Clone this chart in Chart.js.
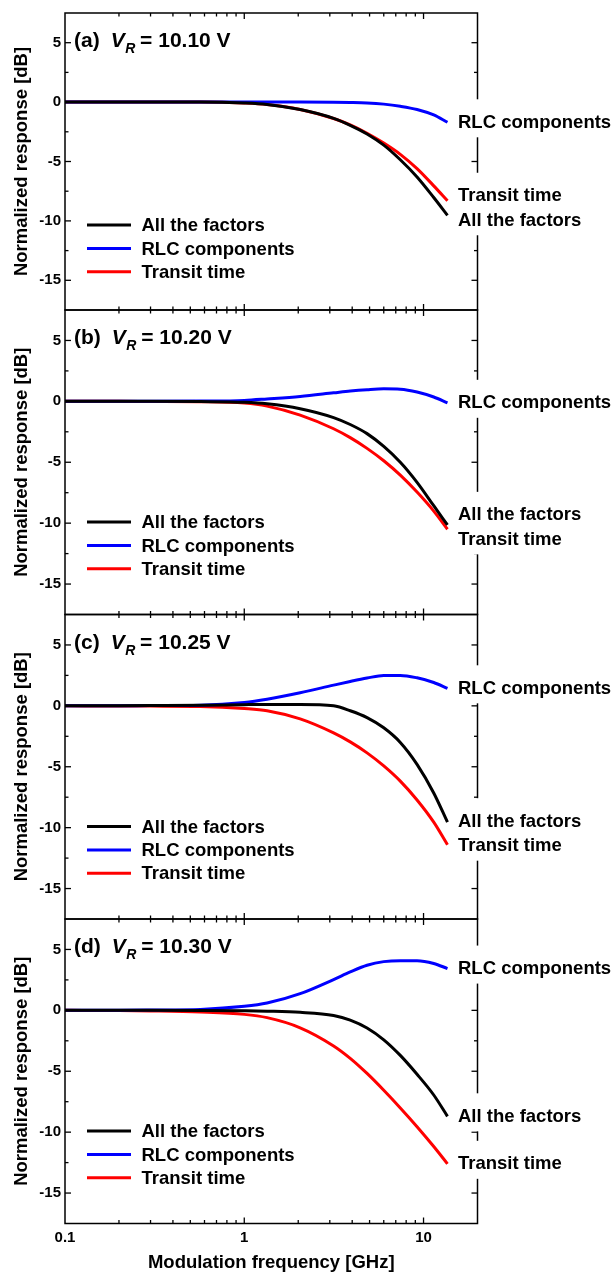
<!DOCTYPE html>
<html>
<head>
<meta charset="utf-8">
<script src="https://cdn.jsdelivr.net/npm/chart.js@4.4.1/dist/chart.umd.min.js"></script>
<style>
  html, body { margin: 0; padding: 0; background: #ffffff; }
  #stack { position: relative; width: 611px; height: 1280px; overflow: hidden; background: #ffffff; }
  #stack canvas { position: absolute; left: 0; top: 0; }
</style>
</head>
<body>
<div id="stack">
  <canvas id="panelA" width="611" height="1280"></canvas>
  <canvas id="panelB" width="611" height="1280"></canvas>
  <canvas id="panelC" width="611" height="1280"></canvas>
  <canvas id="panelD" width="611" height="1280"></canvas>
</div>
<script>
// Modulation frequency samples [GHz]
const freqGHz = [0.1, 0.2, 0.3, 0.57, 1, 1.34, 2.05, 3.15, 3.9, 4.84, 6.0, 7.42, 9.2, 11.4, 13.6];

// (a) V_R = 10.10 V  — normalized response [dB]
const allA     = [0, 0, 0, 0, -0.08, -0.2, -0.63, -1.37, -1.95, -2.68, -3.62, -4.85, -6.3, -8.03, -9.53];
const rlcA     = [0, 0, 0, 0, 0, 0, 0, -0.01, -0.03, -0.07, -0.17, -0.35, -0.62, -1.08, -1.7];
const transitA = [0, 0, 0, 0, -0.08, -0.2, -0.62, -1.38, -1.92, -2.62, -3.45, -4.4, -5.6, -7.05, -8.3];

// (b) V_R = 10.20 V
const allB     = [0, 0, 0, -0.02, -0.08, -0.2, -0.6, -1.33, -1.9, -2.65, -3.7, -5.0, -6.65, -8.57, -10.15];
const rlcB     = [0, 0, 0, 0.02, 0.08, 0.2, 0.4, 0.7, 0.85, 0.96, 1.03, 1.0, 0.77, 0.36, -0.12];
const transitB = [0, 0, -0.01, -0.03, -0.14, -0.39, -1.13, -2.25, -2.98, -3.86, -4.88, -6.06, -7.45, -9.01, -10.5];

// (c) V_R = 10.25 V
const allC     = [0, 0.01, 0.02, 0.04, 0.1, 0.12, 0.12, 0.0, -0.4, -0.96, -1.8, -3.0, -4.8, -7.15, -9.55];
const rlcC     = [0, 0.01, 0.02, 0.05, 0.28, 0.55, 1.08, 1.7, 2.0, 2.28, 2.5, 2.5, 2.3, 1.92, 1.44];
const transitC = [0, -0.01, -0.02, -0.05, -0.22, -0.4, -1.07, -2.22, -2.96, -3.86, -4.93, -6.18, -7.73, -9.55, -11.4];

// (d) V_R = 10.30 V
const allD     = [0, 0, 0, -0.01, -0.04, -0.07, -0.16, -0.42, -0.8, -1.45, -2.42, -3.7, -5.25, -6.95, -8.7];
const rlcD     = [0, 0.01, 0.03, 0.08, 0.33, 0.6, 1.37, 2.53, 3.15, 3.7, 4.0, 4.08, 4.08, 3.85, 3.43];
const transitD = [0, -0.02, -0.05, -0.14, -0.33, -0.6, -1.43, -2.92, -3.94, -5.18, -6.56, -8.01, -9.55, -11.18, -12.6];

const panelTags   = ['(a)', '(b)', '(c)', '(d)'];
const biasVoltage = ['10.10', '10.20', '10.25', '10.30'];
const seriesNames = ['All the factors', 'RLC components', 'Transit time'];
const xMajorTicks = [0.1, 1, 10];
const yMajorTicks = [-15, -10, -5, 0, 5];

const panelSeries = [
  [allA, rlcA, transitA],
  [allB, rlcB, transitB],
  [allC, rlcC, transitC],
  [allD, rlcD, transitD]
];

// ---- layout & style ----
const FONT = "'Liberation Sans', Arial, Helvetica, sans-serif";
const W = 611, H = 1280;
const PLOT_LEFT = 65, PLOT_RIGHT = 477.5;
const FIRST_TOP = 5.5, PANEL_H = 304.5;
const X_AXIS_H = H - (FIRST_TOP + 4 * PANEL_H);
const LINE_COLORS = ['#000000', '#0000ff', '#ff0000'];

function drawSegment(ctx, x0, y0, x1, y1) {
  ctx.beginPath();
  ctx.moveTo(x0, y0);
  ctx.lineTo(x1, y1);
  ctx.stroke();
}

// push overlapping end labels apart so they keep a minimum spacing
function spreadLabels(items, gap) {
  items.sort((p, q) => p.y - q.y);
  for (let pass = 0; pass < 60; pass++) {
    let moved = false;
    for (let i = 1; i < items.length; i++) {
      const d = items[i].y - items[i - 1].y;
      if (d < gap - 0.01) {
        const push = (gap - d) / 2;
        items[i - 1].y -= push;
        items[i].y += push;
        moved = true;
      }
    }
    if (!moved) break;
  }
  return items;
}

function chromePlugin(idx) {
  const isLast = idx === 3;
  return {
    id: 'panelChrome' + idx,
    afterDraw(chart) {
      const { ctx, chartArea: a, scales } = chart;
      const xs = scales.x, ys = scales.y;
      ctx.save();

      // frame
      ctx.strokeStyle = '#000';
      ctx.lineWidth = 1.5;
      ctx.strokeRect(a.left, a.top, a.right - a.left, a.bottom - a.top);

      // inward ticks on all four sides
      ctx.lineWidth = 1.3;
      for (const d of [0.1, 1, 10]) {
        for (let m = 1; m <= 9; m++) {
          const v = +(m * d).toPrecision(6);
          if (v <= xs.min || v >= xs.max) continue;
          const px = xs.getPixelForValue(v);
          const len = m === 1 ? 6 : 3.5;
          drawSegment(ctx, px, a.bottom, px, a.bottom - len);
          drawSegment(ctx, px, a.top, px, a.top + len);
        }
      }
      for (let v = ys.min; v <= ys.max + 1e-9; v += 2.5) {
        if (v <= ys.min + 1e-9 || v >= ys.max - 1e-9) continue;
        const py = ys.getPixelForValue(v);
        const len = Math.abs(v % 5) < 1e-9 ? 6 : 3.5;
        drawSegment(ctx, a.left, py, a.left + len, py);
        drawSegment(ctx, a.right, py, a.right - len, py);
      }

      ctx.fillStyle = '#000';

      // y-axis title
      ctx.save();
      ctx.translate(21.5, (a.top + a.bottom) / 2);
      ctx.rotate(-Math.PI / 2);
      ctx.font = `bold 18.5px ${FONT}`;
      ctx.textAlign = 'center';
      ctx.textBaseline = 'middle';
      ctx.fillText('Normalized response [dB]', 0, 0);
      ctx.restore();

      // panel heading: (x)  V_R = ... V
      const base = a.top + 34;
      let tx = 74;
      ctx.textAlign = 'left';
      ctx.textBaseline = 'alphabetic';
      ctx.font = `bold 21px ${FONT}`;
      ctx.fillText(panelTags[idx], tx, base);
      tx += ctx.measureText(panelTags[idx]).width + 11;
      ctx.font = `italic bold 21px ${FONT}`;
      ctx.fillText('V', tx, base);
      tx += ctx.measureText('V').width + 0.5;
      ctx.font = `italic bold 14px ${FONT}`;
      ctx.fillText('R', tx, base + 6);
      tx += ctx.measureText('R').width - 1;
      ctx.font = `bold 21px ${FONT}`;
      ctx.fillText(' = ' + biasVoltage[idx] + ' V', tx, base);

      // legend
      const rows = [212, 235.5, 258.8];
      ctx.font = `bold 18.5px ${FONT}`;
      ctx.textBaseline = 'middle';
      rows.forEach((dy, k) => {
        const ly = a.top + dy;
        ctx.strokeStyle = LINE_COLORS[k];
        ctx.lineWidth = 3;
        drawSegment(ctx, 87, ly, 131, ly);
        ctx.fillStyle = '#000';
        ctx.fillText(seriesNames[k], 141.5, ly + 1);
      });

      // end-of-curve labels, white-backed over the right frame
      const ends = chart.data.datasets.map((ds, k) => {
        const last = ds.data[ds.data.length - 1];
        return { name: seriesNames[k], y: ys.getPixelForValue(last.y) };
      });
      spreadLabels(ends, 24.5);
      ctx.fillStyle = '#ffffff';
      ends.forEach(item => ctx.fillRect(453, item.y - 23, W - 453, 38));
      ctx.fillStyle = '#000';
      ends.forEach(item => ctx.fillText(item.name, 458, item.y + 0.5));

      // x-axis title (bottom panel only)
      if (isLast) {
        ctx.font = `bold 18.5px ${FONT}`;
        ctx.textAlign = 'center';
        ctx.textBaseline = 'middle';
        ctx.fillText('Modulation frequency [GHz]', (a.left + a.right) / 2, 1262.5);
      }
      ctx.restore();
    }
  };
}

function makePanel(idx, canvasId) {
  const top = FIRST_TOP + idx * PANEL_H;
  const bottom = top + PANEL_H;
  const isLast = idx === 3;
  const xh = isLast ? X_AXIS_H : 0;
  const datasets = panelSeries[idx].map((vals, k) => ({
    label: seriesNames[k],
    data: freqGHz.map((f, j) => ({ x: f, y: vals[j] })),
    borderColor: LINE_COLORS[k],
    backgroundColor: LINE_COLORS[k],
    borderWidth: 3,
    borderJoinStyle: 'round',
    pointRadius: 0,
    fill: false,
    cubicInterpolationMode: 'monotone'
  }));
  const tickFont = { family: FONT, size: 15, weight: 'bold' };
  return new Chart(document.getElementById(canvasId), {
    type: 'line',
    data: { datasets },
    options: {
      responsive: false,
      animation: false,
      devicePixelRatio: 1,
      events: [],
      layout: { padding: { left: 0, top: top, right: W - PLOT_RIGHT, bottom: H - bottom - xh } },
      plugins: { legend: { display: false }, tooltip: { enabled: false }, title: { display: false } },
      scales: {
        x: {
          type: 'logarithmic',
          min: 0.1,
          max: 20,
          grid: { display: false, drawTicks: false },
          border: { display: false },
          ticks: {
            display: isLast,
            font: tickFont,
            color: '#000',
            padding: 5,
            maxRotation: 0,
            autoSkip: false,
            callback: v => String(v)
          },
          afterBuildTicks: s => { s.ticks = xMajorTicks.map(v => ({ value: v })); },
          afterFit: s => { s.height = xh; }
        },
        y: {
          type: 'linear',
          min: -17.5,
          max: 7.5,
          grid: { display: false, drawTicks: false },
          border: { display: false },
          ticks: { font: tickFont, color: '#000', padding: 4, callback: v => String(v) },
          afterBuildTicks: s => { s.ticks = yMajorTicks.map(v => ({ value: v })); },
          afterFit: s => { s.width = PLOT_LEFT; }
        }
      }
    },
    plugins: [chromePlugin(idx)]
  });
}

Chart.defaults.font.family = FONT;
['panelA', 'panelB', 'panelC', 'panelD'].forEach((id, i) => makePanel(i, id));
</script>
</body>
</html>
